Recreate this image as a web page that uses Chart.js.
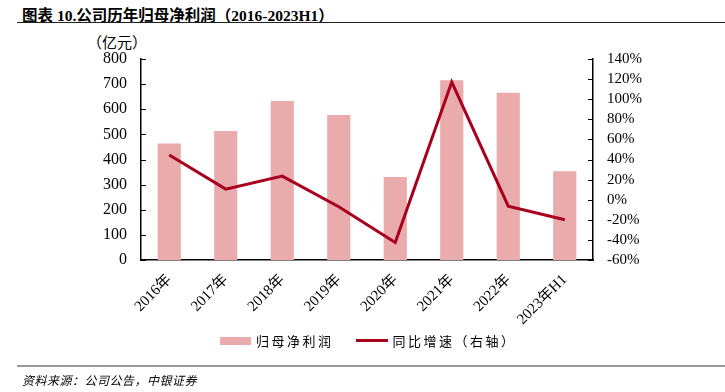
<!DOCTYPE html>
<html>
<head>
<meta charset="utf-8">
<script src="https://cdn.jsdelivr.net/npm/chart.js@4"></script>
<style>
  body { margin: 0; background: #fff; width: 725px; height: 392px; overflow: hidden; position: relative;
         font-family: "Liberation Serif", "Noto Sans CJK SC", serif; color: #000; }
  #title { position: absolute; left: 22px; top: 3px; font-size: 15.5px; font-weight: bold; white-space: nowrap; }
  #topRule { position: absolute; left: 17px; right: 0; top: 22px; height: 1px; background: #222; }
  #unit { position: absolute; left: 87px; top: 31px; font-size: 15px; }
  #chartBox { position: absolute; left: 0; top: 0; width: 725px; height: 392px; }
  #legend { position: absolute; top: 331px; left: 220px; font-size: 13px; letter-spacing: 2.5px; white-space: nowrap; }
  #legend span { display: inline-block; vertical-align: middle; }
  .swBar { width: 31px; height: 8px; background: #e9abab; margin-right: 5px; }
  .swLine { width: 32px; height: 3px; background: #a8001e; margin: 0 5px 0 22px; }
  #bottomRule { position: absolute; left: 17px; right: 0; top: 365px; height: 2px; background: #999; }
  #source { position: absolute; left: 22px; top: 371px; font-size: 12px; font-style: italic; letter-spacing: 0.5px; }
</style>
</head>
<body>
<div id="title">图表 10.公司历年归母净利润（2016-2023H1）</div>
<div id="topRule"></div>
<div id="unit">（亿元）</div>
<div id="chartBox"><canvas id="c"></canvas></div>
<div id="legend"><span class="swBar"></span><span>归母净利润</span><span class="swLine"></span><span>同比增速（右轴）</span></div>
<div id="bottomRule"></div>
<div id="source">资料来源：公司公告，中银证券</div>
<script>
// ── data ──
const years = ['2016年', '2017年', '2018年', '2019年', '2020年', '2021年', '2022年', '2023年H1']
const netProfit = [464, 513, 633, 577, 330, 715, 666, 353]      // 亿元
const yoyGrowth = [44.5, 10.5, 23.5, -7, -42.5, 117, -6.5, -20]  // %

const BAR_COLOR = '#e9abab'
const LINE_COLOR = '#a8001e'
const serif = '"Liberation Serif", "Noto Sans CJK SC", serif'

// ticks drawn inward from each axis line, positions taken from the scale
const inwardTicks = {
  id: 'inwardTicks',
  afterDatasetsDraw (chart) {
    const ctx = chart.ctx
    ctx.save()
    ctx.strokeStyle = '#000'
    ctx.lineWidth = 1
    ;['y', 'y1'].forEach(id => {
      const s = chart.scales[id]
      const x0 = id === 'y' ? s.right : s.left
      const dir = id === 'y' ? 1 : -1
      s.ticks.forEach(t => {
        const py = Math.round(s.getPixelForValue(t.value)) + 0.5
        ctx.beginPath()
        ctx.moveTo(x0, py)
        ctx.lineTo(x0 + dir * 5, py)
        ctx.stroke()
      })
    })
    ctx.restore()
  }
}

new Chart(document.getElementById('c'), {
  data: {
    labels: years,
    datasets: [
      {
        type: 'line', label: '同比增速（右轴）', data: yoyGrowth, yAxisID: 'y1',
        borderColor: LINE_COLOR, borderWidth: 3, pointRadius: 0, tension: 0, order: 0
      },
      {
        type: 'bar', label: '归母净利润', data: netProfit, yAxisID: 'y',
        backgroundColor: BAR_COLOR, barPercentage: 0.41, categoryPercentage: 1, order: 1
      }
    ]
  },
  options: {
    responsive: true, maintainAspectRatio: false, animation: false,
    layout: { padding: { top: 59, left: 0, right: 0, bottom: 0 } },
    plugins: { legend: { display: false }, tooltip: { enabled: false } },
    scales: {
      x: {
        grid: { display: false, drawTicks: false },
        border: { display: true, color: '#000', width: 1.5 },
        ticks: { maxRotation: 45, minRotation: 45, padding: 11, autoSkip: false, color: '#000', font: { family: serif, size: 15 } },
        afterFit: s => { s.height = 132 }
      },
      y: {
        position: 'left', min: 0, max: 800,
        grid: { display: false, drawTicks: false },
        border: { display: true, color: '#000', width: 1.5 },
        ticks: { stepSize: 100, padding: 14, autoSkip: false, color: '#000', font: { family: serif, size: 16 } },
        afterFit: s => { s.width = 141 }
      },
      y1: {
        position: 'right', min: -60, max: 140,
        grid: { display: false, drawTicks: false },
        border: { display: true, color: '#000', width: 1.5 },
        ticks: { stepSize: 20, padding: 14, autoSkip: false, color: '#000', font: { family: serif, size: 15 }, callback: v => v + '%' },
        afterFit: s => { s.width = 132 }
      }
    }
  },
  plugins: [inwardTicks]
})
</script>
</body>
</html>
